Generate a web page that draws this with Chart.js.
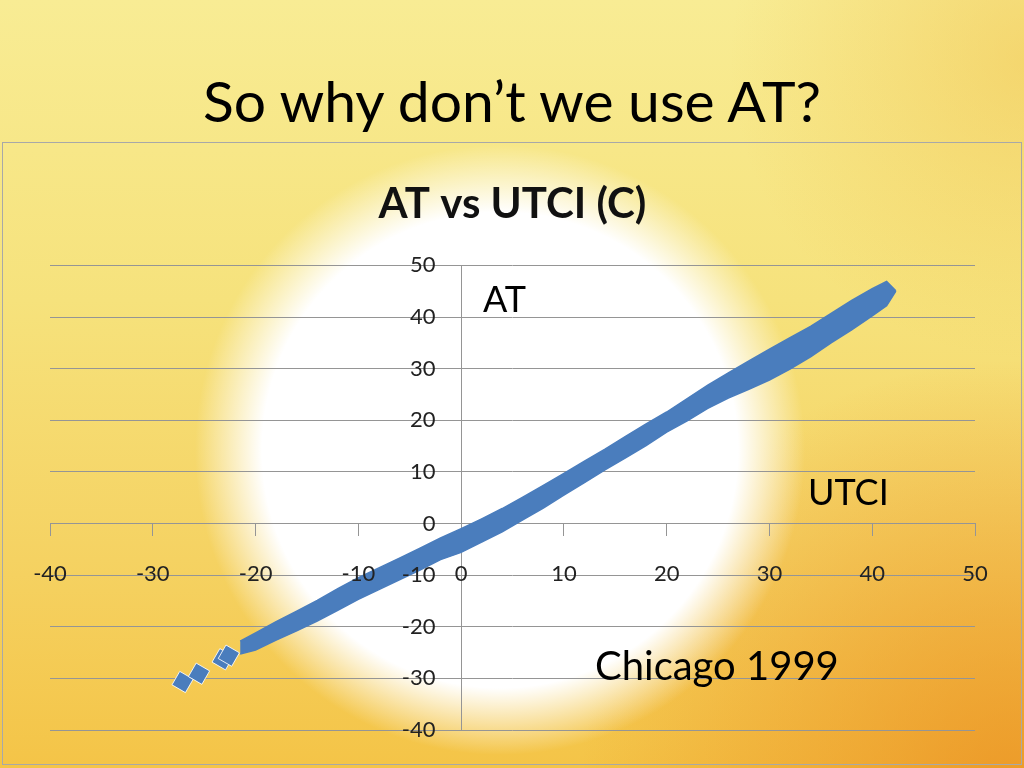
<!DOCTYPE html>
<html>
<head>
<meta charset="utf-8">
<script src="https://cdn.jsdelivr.net/npm/chart.js@4.4.1/dist/chart.umd.min.js"></script>
<style>
  html, body { margin: 0; padding: 0; }
  body {
    width: 1024px; height: 768px; overflow: hidden; position: relative;
    font-family: Lato, "Open Sans", sans-serif;
    background:
      radial-gradient(circle at 500px 450px, #ffffff 0, #ffffff 238px, rgba(255,255,255,0) 305px),
      radial-gradient(circle at 1010px 790px, rgba(234,140,30,0.75) 0, rgba(234,140,30,0) 430px),
      radial-gradient(circle at 1030px 60px, rgba(240,190,70,0.45) 0, rgba(240,190,70,0) 300px),
      linear-gradient(to bottom, #f8ec94 0, #f6e27c 300px, #f5d262 560px, #f4c447 768px);
  }
  h1 {
    position: absolute; left: 0; top: 66px; width: 1024px; margin: 0;
    text-align: center; font-weight: normal; font-size: 57px; line-height: 1.2; color: #000;
  }
  #frame { position: absolute; left: 2px; top: 142px; width: 1018px; height: 621px; border: 1px solid #a8a8a8; }
  #wrap { position: absolute; left: 0; top: 143px; width: 1024px; height: 625px; }
  .note { position: absolute; line-height: 1.2; color: #000; white-space: nowrap; }
</style>
</head>
<body>
<h1>So why don’t we use AT?</h1>
<div id="frame"></div>
<div id="wrap"><canvas id="myChart"></canvas></div>
<div class="note" style="left:483px; top:277px; font-size:36px;">AT</div>
<div class="note" style="left:808px; top:470px; font-size:36px;">UTCI</div>
<div class="note" style="left:595px; top:641px; font-size:40px;">Chicago 1999</div>
<script>
// UTCI (x) values where the edges of the point cloud were read, and AT at its upper / lower edge
const utci = [-21.5, -20, -18, -16, -14, -12, -10, -8, -6, -4, -2, 0, 2, 4, 6, 8, 10, 12, 14, 16, 18, 20, 22, 24, 26, 28, 30, 32, 34, 36, 38, 40, 41.4, 42.3];
const atUpper = [-22.8, -21.2, -19.0, -17.0, -14.9, -12.6, -10.5, -8.6, -6.7, -4.8, -2.8, -1.0, 0.9, 2.9, 5.1, 7.4, 9.7, 12.1, 14.4, 16.9, 19.3, 21.6, 24.2, 26.8, 29.2, 31.5, 33.8, 36.0, 38.2, 40.7, 43.2, 45.5, 46.9, 45.1];
const atLower = [-25.3, -24.5, -22.6, -20.8, -18.9, -16.8, -14.7, -12.8, -10.9, -9.0, -7.0, -5.6, -3.6, -1.6, 0.7, 3.0, 5.5, 7.9, 10.4, 12.7, 15.1, 17.7, 19.9, 22.3, 24.3, 26.0, 27.8, 29.9, 32.3, 35.0, 37.5, 40.2, 42.2, 45.0];

// the few separate points at the cold end
const utciSparse = [-27.1, -25.5, -23.2, -22.6];
const atSparse = [-30.7, -29.1, -26.3, -25.6];

const xTicks = [-40, -30, -20, -10, 0, 10, 20, 30, 40, 50];
const yTicks = [-40, -30, -20, -10, 0, 10, 20, 30, 40, 50];

const blue = '#4a7dbd';
const gridGray = '#959595';

const toPoints = (xs, ys) => xs.map((x, i) => ({ x: x, y: ys[i] }));

const ctx = document.getElementById('myChart').getContext('2d');
const myChart = new Chart(ctx, {
  type: 'line',
  data: {
    datasets: [
      {
        label: 'AT low',
        data: toPoints(utci, atLower),
        borderColor: blue,
        borderWidth: 1.5,
        pointRadius: 0,
        fill: false
      },
      {
        label: 'AT high',
        data: toPoints(utci, atUpper),
        borderColor: blue,
        backgroundColor: blue,
        borderWidth: 1.5,
        pointRadius: 0,
        fill: '-1'
      },
      {
        label: 'AT',
        data: toPoints(utciSparse, atSparse),
        showLine: false,
        pointStyle: 'rect',
        rotation: 30,
        pointRadius: 11,
        backgroundColor: blue,
        borderColor: 'rgba(255,255,255,0.85)',
        borderWidth: 1
      }
    ]
  },
  options: {
    responsive: true,
    maintainAspectRatio: false,
    animation: false,
    layout: { padding: { left: 50, right: 49, top: 4, bottom: 38 } },
    plugins: {
      legend: { display: false },
      tooltip: { enabled: false },
      title: {
        display: true,
        text: 'AT vs UTCI (C)',
        color: '#111',
        font: { family: 'Lato', size: 42, weight: 'bold' },
        padding: { top: 32, bottom: 36 }
      }
    },
    scales: {
      x: {
        type: 'linear',
        position: { y: 0 },
        min: xTicks[0],
        max: xTicks[xTicks.length - 1],
        afterBuildTicks: (axis) => { axis.ticks = xTicks.map(v => ({ value: v })); },
        // only the 0 line is drawn across the plot: it is the vertical axis
        grid: {
          drawOnChartArea: true,
          drawTicks: true,
          tickLength: 12,
          tickColor: gridGray,
          color: (c) => (c.tick && c.tick.value === 0 ? gridGray : 'rgba(0,0,0,0)')
        },
        border: { display: true, color: gridGray },
        ticks: { z: 1, padding: 25, color: '#222', font: { family: 'Lato', size: 22 }, maxRotation: 0 }
      },
      y: {
        type: 'linear',
        position: { x: -2.5 },
        min: yTicks[0],
        max: yTicks[yTicks.length - 1],
        afterBuildTicks: (axis) => { axis.ticks = yTicks.map(v => ({ value: v })); },
        grid: { drawTicks: false, color: gridGray },
        border: { display: false },
        ticks: { z: 1, padding: 0, color: '#222', font: { family: 'Lato', size: 22 } }
      }
    }
  }
});
</script>
</body>
</html>
